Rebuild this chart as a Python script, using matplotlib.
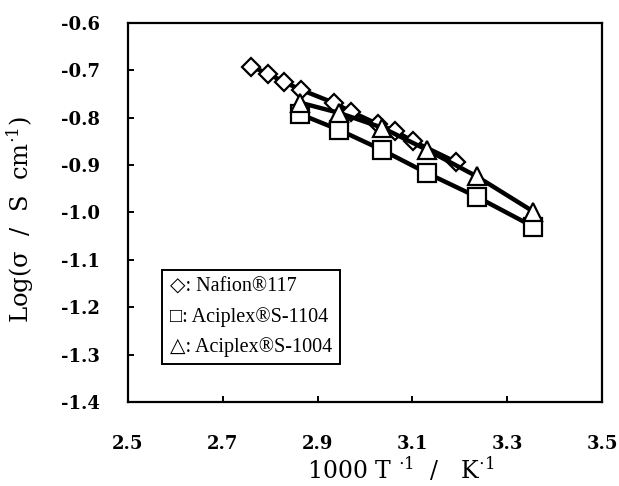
import matplotlib
matplotlib.use("Agg")
import matplotlib.pyplot as plt

# conductivity data
nafion_x = [2.760, 2.795, 2.830, 2.865, 2.935, 2.970, 3.028, 3.063, 3.102, 3.193]
nafion_y = [-0.692, -0.707, -0.725, -0.741, -0.769, -0.787, -0.814, -0.828, -0.850, -0.894]

aciplex_x = [2.862, 2.946, 3.036, 3.131, 3.236, 3.355]
s1104_y = [-0.792, -0.826, -0.868, -0.917, -0.967, -1.030]
s1004_y = [-0.768, -0.790, -0.821, -0.868, -0.924, -0.998]

xticks = [2.5, 2.7, 2.9, 3.1, 3.3, 3.5]
yticks = [-0.6, -0.7, -0.8, -0.9, -1.0, -1.1, -1.2, -1.3, -1.4]

legend_lines = ["\u25c7: Nafion\u00ae117",
                "\u25a1: Aciplex\u00aeS-1104",
                "\u25b3: Aciplex\u00aeS-1004"]

plt.rcParams['font.family'] = ['DejaVu Serif']
plt.rcParams['mathtext.fontset'] = 'dejavuserif'

fig = plt.figure(figsize=(6.19, 4.86), dpi=100)
ax = fig.add_axes([0.2068, 0.1728, 0.7657, 0.78])

line_kw = dict(color='black', lw=3.2, markerfacecolor='white',
               markeredgecolor='black', markeredgewidth=1.6)
ax.plot(nafion_x, nafion_y, marker='D', ms=9, **line_kw)
ax.plot(aciplex_x, s1104_y, marker='s', ms=13, **line_kw)
ax.plot(aciplex_x, s1004_y, marker='^', ms=13, **line_kw)

ax.set_xlim(2.5, 3.5)
ax.set_ylim(-1.4, -0.6)
ax.set_xticks(xticks)
ax.set_yticks(yticks)
ax.set_xticklabels([f"{v:.1f}" for v in xticks], fontsize=13, fontweight='bold')
ax.set_yticklabels([f"{v:.1f}" for v in yticks], fontsize=13, fontweight='bold')
ax.tick_params(axis='x', direction='in', length=4, width=1.4, pad=24)
ax.tick_params(axis='y', direction='in', length=4, width=1.4, pad=20)
ax.tick_params(top=False, right=False)
for s in ax.spines.values():
    s.set_linewidth(1.6)

ax.set_xlabel(r"1000 T $^{\cdot 1}$  /   K$^{\cdot 1}$", fontsize=17)
ax.xaxis.set_label_coords(0.575, -0.14)
ax.set_ylabel(r"Log(σ  /  S  cm$^{\cdot 1}$)", fontsize=17.5)
ax.yaxis.set_label_coords(-0.195, 0.48)

ax.text(0.088, 0.328, "\n".join(legend_lines), transform=ax.transAxes,
        family=['Liberation Serif', 'DejaVu Sans'], fontsize=14.5,
        va='top', ha='left', linespacing=1.68,
        bbox=dict(boxstyle='square,pad=0.38', fc='white', ec='black', lw=1.4))

fig.savefig("out.png", dpi=100)
